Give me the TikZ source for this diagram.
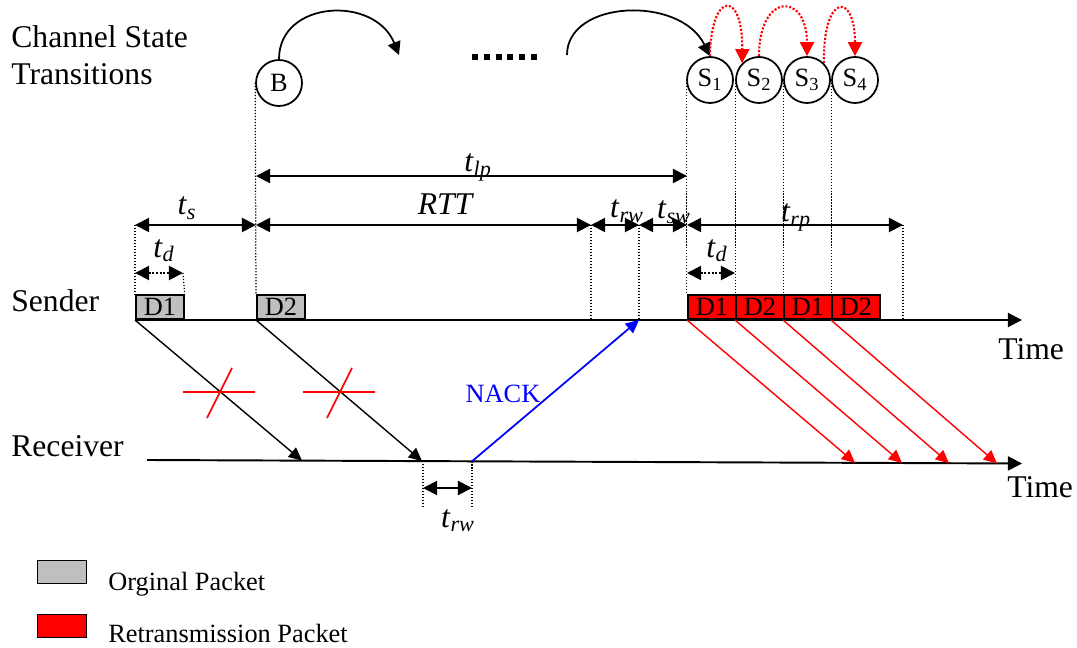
\documentclass[tikz,border=0pt]{standalone}
\usepackage{fontspec}
\setmainfont{Liberation Serif}
\usetikzlibrary{arrows.meta}

\newcommand{\tlab}[1]{\textit{t}\textsubscript{\textit{#1}}}

\tikzset{
  big/.style={font=\fontsize{18}{20}\selectfont, inner sep=0pt},
  small/.style={font=\fontsize{15}{17}\selectfont, inner sep=0pt},
  state/.style={circle, draw, line width=1pt, minimum size=0.92cm, inner sep=0pt, font=\fontsize{15}{17}\selectfont},
  orig/.style={draw, line width=1pt, fill=black!25, minimum width=0.96cm, minimum height=0.48cm, inner sep=0pt, anchor=south west, font=\fontsize{15}{17}\selectfont},
  retx/.style={orig, fill=red},
  axis/.style={line width=1.1pt, -{Triangle[length=8pt,width=8pt]}},
  dim/.style={line width=1.1pt, {Triangle[length=8pt,width=8pt]}-{Triangle[length=8pt,width=8pt]}},
  guide/.style={densely dotted, line width=0.7pt},
  pkt/.style={line width=0.8pt, -{Triangle[length=7.5pt,width=7pt]}},
  trans/.style={line width=1pt, -{Triangle[length=7.5pt,width=7.5pt]}},
  hop/.style={red, densely dotted, line width=1.2pt, -{Triangle[length=8pt,width=8pt]}},
  cross/.style={red, line width=0.9pt},
}

\begin{document}
\begin{tikzpicture}[x=0.02cm, y=-0.02cm]
  \useasboundingbox (0,0) rectangle (1077,648);

  % Left labels
  \node[big, anchor=base west] (cst1) at (11,48) {Channel State};
  \node[big, anchor=base west] (cst2) at (11,85) {Transitions};
  \node[big, anchor=base west] (sender) at (11,311) {Sender};
  \node[big, anchor=base west] (receiver) at (11,456) {Receiver};

  % Channel states
  \node[state] (B) at (279,83) {B};
  \node[state] (S1) at (710,80) {S\textsubscript{1}};
  \node[state] (S2) at (759,80) {S\textsubscript{2}};
  \node[state] (S3) at (807,80) {S\textsubscript{3}};
  \node[state] (S4) at (855,80) {S\textsubscript{4}};

  % State transitions
  \coordinate (barc) at (399,55);
  \coordinate (sarc) at (567,55);
  \draw[trans] (B.north) .. controls (279,0) and (375,-5) .. (barc);
  \draw[line width=3.4pt, dash pattern=on 3.4pt off 3.3pt] (472,57) -- (537,57);
  \draw[trans] (sarc) .. controls (567,0) and (680,-5) .. (S1.north);
  \draw[hop] (S1.north) .. controls (711,-10) and (743,-10) .. (S2.135);
  \draw[hop] (S2.north) .. controls (759,-8) and (807,-8) .. (S3.north);
  \draw[hop] (S3.45) .. controls (823,-8) and (855,-8) .. (S4.north);

  % Packets on the sender
  \node[orig] (d1) at (135,320) {\raisebox{-2pt}{D1}};
  \node[orig] (d2) at (256,320) {\raisebox{-2pt}{D2}};
  \node[retx] (r1) at (687,320) {\raisebox{-2pt}{D1}};
  \node[retx] (r2) at (735,320) {\raisebox{-2pt}{D2}};
  \node[retx] (r3) at (783,320) {\raisebox{-2pt}{D1}};
  \node[retx] (r4) at (831,320) {\raisebox{-2pt}{D2}};

  % Time axes
  \coordinate (s0) at (135,320);
  \coordinate (s1) at (1022,320);
  \coordinate (q0) at (147,460);
  \coordinate (q1) at (1022,463.5);
  \draw[axis] (s0) -- (s1);
  \draw[axis] (q0) -- (q1);
  \node[big, anchor=base west] (time1) at (998,359) {Time};
  \node[big, anchor=base west] (time2) at (1007,497) {Time};

  % Time marks
  \coordinate (lp0) at (256,176);
  \coordinate (lp1) at (687,176);
  \coordinate (ka) at (135,225);
  \coordinate (kc) at (256,225);
  \coordinate (kd) at (591,225);
  \coordinate (ke) at (639,225);
  \coordinate (kf) at (687,225);
  \coordinate (kk) at (903,225);
  \coordinate (da0) at (135,273);
  \coordinate (da1) at (183,273);
  \coordinate (db0) at (687,273);
  \coordinate (db1) at (735,273);

  % Dotted guides
  \draw[guide] (B.west) -- (d2.north west);
  \draw[guide] (S1.west) -- (S1.west |- r1.north);
  \draw[guide] (S2.west) -- (S2.west |- r2.north);
  \draw[guide] (S3.west) -- (S3.west |- r3.north);
  \draw[guide] (S4.west) -- (S4.west |- r4.north);
  \draw[guide] (ka) -- (d1.north west);
  \draw[guide] (da1) -- (d1.north east);
  \draw[guide] (kd) -- (kd |- s0);
  \draw[guide] (ke) -- (ke |- s0);
  \draw[guide] (kk) -- (kk |- s0);

  % Intervals
  \draw[dim] (lp0) -- (lp1);
  \draw[dim] (ka) -- (kc);
  \draw[dim] (kc) -- (kd);
  \draw[dim] (kd) -- (ke);
  \draw[dim] (ke) -- (kf);
  \draw[dim] (kf) -- (kk);
  \draw[dim, densely dotted] (da0) -- (da1);
  \draw[dim, densely dotted] (db0) -- (db1);
  \node[big, anchor=base] (tlp) at (478,172) {\tlab{lp}};
  \node[big, anchor=base] (ts) at (187,215) {\tlab{s}};
  \node[big, anchor=base] (rtt) at (446,215) {\textit{RTT}};
  \node[big, anchor=base] (trw) at (627,218) {\tlab{rw}};
  \node[big, anchor=base] (tsw) at (674,219) {\tlab{sw}};
  \node[big, anchor=base] (trp) at (796,222) {\tlab{rp}};
  \node[big, anchor=base] (td1) at (164,257) {\tlab{d}};
  \node[big, anchor=base] (td2) at (717,257) {\tlab{d}};

  % Lost original packets
  \coordinate (h1) at (302,460.6);
  \coordinate (h2) at (422,461.1);
  \draw[pkt] (d1.south west) -- (h1);
  \draw[pkt] (d2.south west) -- (h2);
  \draw[cross] (183,392) -- (255,392);
  \draw[cross] (207,418) -- (232,368);
  \draw[cross] (303,392) -- (375,392);
  \draw[cross] (327,418) -- (352,368);

  % Receiver wait and NACK
  \coordinate (rw0) at (423,488);
  \coordinate (rw1) at (472,488);
  \coordinate (nk0) at (472,461.3);
  \coordinate (nk1) at (639,320);
  \draw[guide] (h2 -| rw0) -- (423,508);
  \draw[guide] (nk0) -- (472,508);
  \draw[dim] (rw0) -- (rw1);
  \node[big, anchor=base] (trw2) at (458,527) {\tlab{rw}};
  \draw[blue, line width=1pt, -{Triangle[length=7.5pt,width=7pt]}] (nk0) -- (nk1);
  \node[small, blue, anchor=base] (nack) at (503,402) {NACK};

  % Retransmitted packets
  \coordinate (g1) at (855,462.8);
  \coordinate (g2) at (902,463.0);
  \coordinate (g3) at (949,463.2);
  \coordinate (g4) at (997,463.4);
  \draw[pkt, red] (r1.south west) -- (g1);
  \draw[pkt, red] (r2.south west) -- (g2);
  \draw[pkt, red] (r3.south west) -- (g3);
  \draw[pkt, red] (r4.south west) -- (g4);

  % Legend
  \node[orig, anchor=center, minimum width=0.98cm, minimum height=0.46cm] (lg1) at (62,572) {};
  \node[retx, anchor=center, minimum width=0.98cm, minimum height=0.46cm] (lg2) at (62,626) {};
  \node[small, anchor=base west] (lt1) at (108,590) {Orginal Packet};
  \node[small, anchor=base west] (lt2) at (108,642) {Retransmission Packet};
\end{tikzpicture}
\end{document}
